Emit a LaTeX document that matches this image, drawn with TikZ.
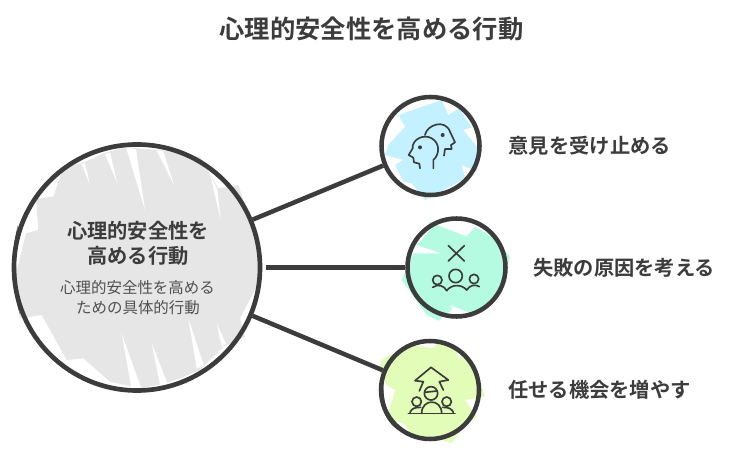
\documentclass[tikz,border=0pt]{standalone}
\usepackage{fontspec}
\usetikzlibrary{positioning}
\setmainfont{Noto Sans CJK JP}[BoldFont={Noto Sans CJK JP Bold}]
\definecolor{ink}{HTML}{3C3C3C}
\definecolor{subink}{HTML}{505050}
\definecolor{hubfill}{HTML}{E6E6E6}
\definecolor{skyfill}{HTML}{C4F1FF}
\definecolor{mintfill}{HTML}{B5FBE2}
\definecolor{limefill}{HTML}{E2FDB8}
\begin{document}
\begin{tikzpicture}[x=0.75pt, y=-0.75pt, font=\bfseries, text=ink]
    \tikzstyle{hubnode}=[circle,draw=ink,line width=3.5pt,minimum size=184.5pt,inner sep=0pt]
    \tikzstyle{spot}=[circle,draw=ink,line width=3.4pt,minimum size=73.5pt,inner sep=0pt]
    \tikzstyle{spoke}=[draw=ink,line width=3.4pt]
    \tikzstyle{glyph}=[draw=ink,line width=1.25pt,line cap=round,line join=round]
    \tikzstyle{tag}=[inner sep=0pt,font=\fontsize{15.2}{18}\bfseries\selectfont]
    \tikzstyle{subtag}=[inner sep=0pt,text=subink,font=\fontsize{11.6}{15}\mdseries\selectfont]
    \useasboundingbox (0,0) rectangle (738,467);

    %% Scribbled fills
    \begin{scope}[shift={(0,140)},x=0.25pt,y=-0.25pt]
        \fill[hubfill] (60,535) -- (48,400) -- (78,280) -- (115,270) -- (108,175) -- (160,170) -- (190,80) -- (245,70) -- (310,40) -- (375,22) -- (480,30) -- (600,50) -- (655,145) -- (715,135) -- (775,320) -- (775,430) -- (720,535) -- (735,590) -- (670,620) -- (600,690) -- (500,730) -- (420,745) -- (330,725) -- (250,655) -- (200,660) -- (125,525) -- cycle;
        \fill[white] (378,22) -- (408,28) -- (435,210) -- cycle;
        \fill[white] (315,42) -- (330,38) -- (352,130) -- cycle;
        \fill[white] (245,72) -- (255,70) -- (270,135) -- cycle;
        \fill[white] (470,32) -- (490,34) -- (522,135) -- cycle;
        \fill[white] (605,55) -- (630,100) -- (662,240) -- (652,148) -- cycle;
        \fill[white] (365,580) -- (425,748) -- (395,748) -- cycle;
        \fill[white] (455,610) -- (503,732) -- (480,735) -- cycle;
        \fill[white] (565,535) -- (612,678) -- (590,685) -- cycle;
        \fill[white] (650,550) -- (678,612) -- (665,620) -- cycle;
    \end{scope}
    \begin{scope}[shift={(370,85)},x=0.25pt,y=-0.25pt]
        \fill[skyfill] (85,90) -- (215,45) -- (235,90) -- (268,70) -- (305,128) -- (280,135) -- (325,190) -- (320,260) -- (275,240) -- (285,280) -- (230,310) -- (165,345) -- (125,295) -- (100,290) -- (75,240) -- (100,225) -- (45,210) -- (55,180) -- (105,125) -- cycle;
    \end{scope}
    \begin{scope}[shift={(395,210)},x=0.25pt,y=-0.25pt]
        \fill[mintfill] (100,35) -- (215,80) -- (240,50) -- (300,85) -- (345,140) -- (320,230) -- (290,280) -- (230,310) -- (165,285) -- (170,300) -- (130,332) -- (95,315) -- (20,210) -- (55,130) -- (140,130) -- (65,105) -- (80,90) -- (105,60) -- cycle;
    \end{scope}
    \begin{scope}[shift={(370,330)},x=0.25pt,y=-0.25pt]
        \fill[limefill] (35,90) -- (50,80) -- (120,45) -- (190,55) -- (205,35) -- (260,55) -- (265,90) -- (285,60) -- (320,130) -- (345,200) -- (285,210) -- (320,260) -- (280,290) -- (245,340) -- (190,320) -- (130,320) -- (100,280) -- (50,265) -- (75,180) -- (50,165) -- (30,130) -- cycle;
    \end{scope}

    %% Circles
    \node[hubnode] (hub) at (137,267.5) {};
    \node[spot] (listen) at (430.5,146) {};
    \node[spot] (cause) at (456.5,267.5) {};
    \node[spot] (trust) at (430,390) {};

    %% Uneven ring strokes
    \fill[ink] (384,372) .. controls (376,390) and (380,418) .. (398,430) .. controls (384,414) and (382,392) .. (384,372) -- cycle;
    \fill[ink] (18,225) .. controls (11,250) and (11,285) .. (20,315) .. controls (15,285) and (15,250) .. (18,225) -- cycle;

    \path[spoke] (hub) -- (listen);
    \path[spoke, shorten <=3pt] (hub) -- (cause);
    \path[spoke] (hub) -- (trust);

    %% Texts
    \node[tag,font=\fontsize{19}{22}\bfseries\selectfont] (title) at (371.5,29) {心理的安全性を高める行動};
    \node[tag] (hubhead) at (138,231) {心理的安全性を};
    \node[tag] (hubhead2) at (138,256) {高める行動};
    \node[subtag] (hubsub) at (137.5,288) {心理的安全性を高める};
    \node[subtag] (hubsub2) at (138,308) {ための具体的行動};
    \node[tag, right=20pt of listen] (listentag) {意見を受け止める};
    \node[tag, right=19pt of cause] (causetag) {失敗の原因を考える};
    \node[tag, right=20pt of trust] (trusttag) {任せる機会を増やす};

    %% Icons
    \begin{scope}[shift={(370,85)},x=0.25pt,y=-0.25pt]
        \draw[glyph] (190,250) -- (190,225) .. controls (208,210) and (212,175) .. (185,160) .. controls (160,145) and (125,165) .. (128,190) -- (116,210) -- (130,218) -- (132,232) -- (148,236) -- (150,250);
        \draw[glyph] (165,150) .. controls (170,120) and (225,100) .. (240,140) -- (255,172) -- (243,180) -- (245,192) -- (225,192) -- (222,212);
        \fill[ink] (150,187) circle (6);
        \fill[ink] (218,150) circle (6);
    \end{scope}
    \begin{scope}[shift={(395,210)},x=0.25pt,y=-0.25pt]
        \draw[glyph] (160,107) -- (208,153) (208,107) -- (160,153);
        \draw[glyph] (182,198) circle (20) (127,210) circle (14) (237,207) circle (14);
        \draw[glyph] (113,232) .. controls (130,220) and (148,228) .. (155,242) .. controls (170,222) and (200,222) .. (215,240) .. controls (225,225) and (240,222) .. (253,230);
    \end{scope}
    \begin{scope}[shift={(370,330)},x=0.25pt,y=-0.25pt]
        \draw[glyph] (148,183) -- (160,155) -- (135,152) -- (183,112) -- (235,150) -- (208,155) -- (220,180);
        \draw[glyph] (183,190) circle (20) (165,187) -- (200,183);
        \draw[glyph] (140,215) circle (14) (230,215) circle (14);
        \draw[glyph] (115,250) -- (255,250);
        \draw[glyph] (155,250) .. controls (155,205) and (215,205) .. (215,250);
        \draw[glyph] (120,247) .. controls (125,235) and (135,232) .. (152,232);
        \draw[glyph] (250,247) .. controls (245,235) and (235,232) .. (218,232);
    \end{scope}
\end{tikzpicture}
\end{document}
